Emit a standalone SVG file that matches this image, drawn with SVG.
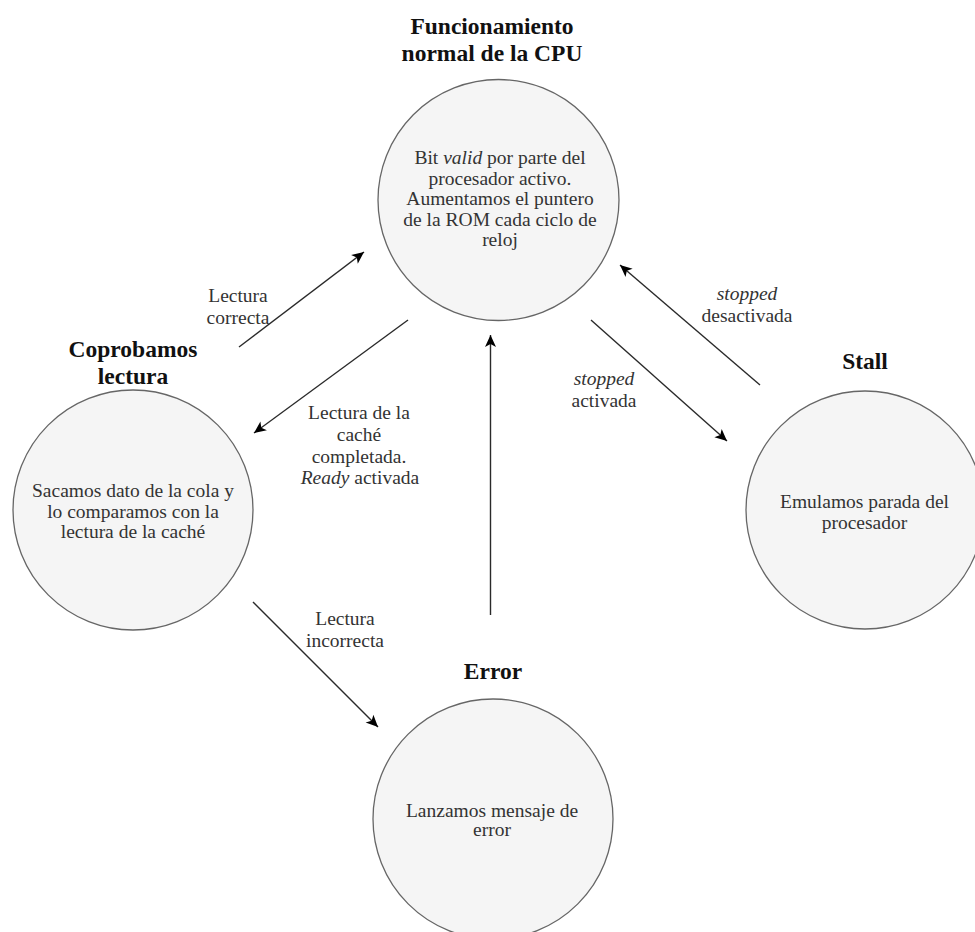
<svg xmlns="http://www.w3.org/2000/svg" width="975" height="932" viewBox="0 0 975 932">
  <style>
    .state { fill: #f5f5f5; stroke: #666666; stroke-width: 1.3; }
    .title { font-family: "Liberation Serif", "Times New Roman", serif; font-size: 23.5px; font-weight: bold; fill: #111111; text-anchor: middle; }
    .body { font-family: "Liberation Serif", "Times New Roman", serif; font-size: 19.5px; fill: #333333; text-anchor: middle; }
    .label { font-family: "Liberation Serif", "Times New Roman", serif; font-size: 19.5px; fill: #333333; text-anchor: middle; }
    .it { font-style: italic; }
    .edge { fill: none; stroke: #2a2a2a; stroke-width: 1.4; marker-end: url(#arrow); }
  </style>
  <defs>
    <marker id="arrow" viewBox="-13 -6 14 12" refX="0" refY="0" markerWidth="14" markerHeight="12" markerUnits="userSpaceOnUse" orient="auto">
      <path d="M0,0 L-12,-5.5 L-9,0 L-12,5.5 Z" fill="#000000"/>
    </marker>
  </defs>
  <rect width="975" height="932" fill="#ffffff"/>

  <!-- transitions -->
  <g id="connectors">
    <line class="edge" x1="239" y1="347" x2="364" y2="252"/>
    <line class="edge" x1="408" y1="320" x2="254" y2="433"/>
    <line class="edge" x1="490.5" y1="615" x2="490.5" y2="335"/>
    <line class="edge" x1="760" y1="385" x2="620" y2="265"/>
    <line class="edge" x1="591" y1="320" x2="727" y2="441"/>
    <line class="edge" x1="253" y1="602" x2="378" y2="727"/>

    <text class="label"><tspan x="238" y="302">Lectura</tspan><tspan x="238" y="323.5">correcta</tspan></text>
    <text class="label"><tspan x="359" y="419">Lectura de la</tspan><tspan x="359" y="441">caché</tspan><tspan x="359" y="462.5">completada.</tspan><tspan x="360" y="484"><tspan class="it">Ready</tspan> activada</tspan></text>
    <text class="label"><tspan class="it" x="747" y="300">stopped</tspan><tspan x="747" y="321.5">desactivada</tspan></text>
    <text class="label"><tspan class="it" x="604" y="385">stopped</tspan><tspan x="604" y="406.5">activada</tspan></text>
    <text class="label"><tspan x="345" y="625">Lectura</tspan><tspan x="345" y="646.5">incorrecta</tspan></text>
  </g>

  <!-- normal CPU operation -->
  <g id="node-cpu">
    <text class="title"><tspan x="492" y="33.5">Funcionamiento</tspan><tspan x="492" y="61">normal de la CPU</tspan></text>
    <circle class="state" cx="498.5" cy="200" r="120.5"/>
    <text class="body"><tspan x="500" y="164">Bit <tspan class="it">valid</tspan> por parte del</tspan><tspan x="500" y="184.5">procesador activo.</tspan><tspan x="500" y="205">Aumentamos el puntero</tspan><tspan x="500" y="225.5">de la ROM cada ciclo de</tspan><tspan x="500" y="246">reloj</tspan></text>
  </g>

  <!-- read check -->
  <g id="node-check">
    <text class="title"><tspan x="133" y="357">Coprobamos</tspan><tspan x="133" y="384">lectura</tspan></text>
    <circle class="state" cx="133" cy="510" r="120"/>
    <text class="body"><tspan x="133" y="497">Sacamos dato de la cola y</tspan><tspan x="133" y="517.5">lo comparamos con la</tspan><tspan x="133" y="538">lectura de la caché</tspan></text>
  </g>

  <!-- stall -->
  <g id="node-stall">
    <text class="title" x="865" y="369">Stall</text>
    <circle class="state" cx="865" cy="510" r="119"/>
    <text class="body"><tspan x="864.5" y="508">Emulamos parada del</tspan><tspan x="864.5" y="528.5">procesador</tspan></text>
  </g>

  <!-- error -->
  <g id="node-error">
    <text class="title" x="493" y="679">Error</text>
    <circle class="state" cx="493" cy="819" r="120"/>
    <text class="body"><tspan x="492" y="816.5">Lanzamos mensaje de</tspan><tspan x="492" y="836">error</tspan></text>
  </g>
</svg>
